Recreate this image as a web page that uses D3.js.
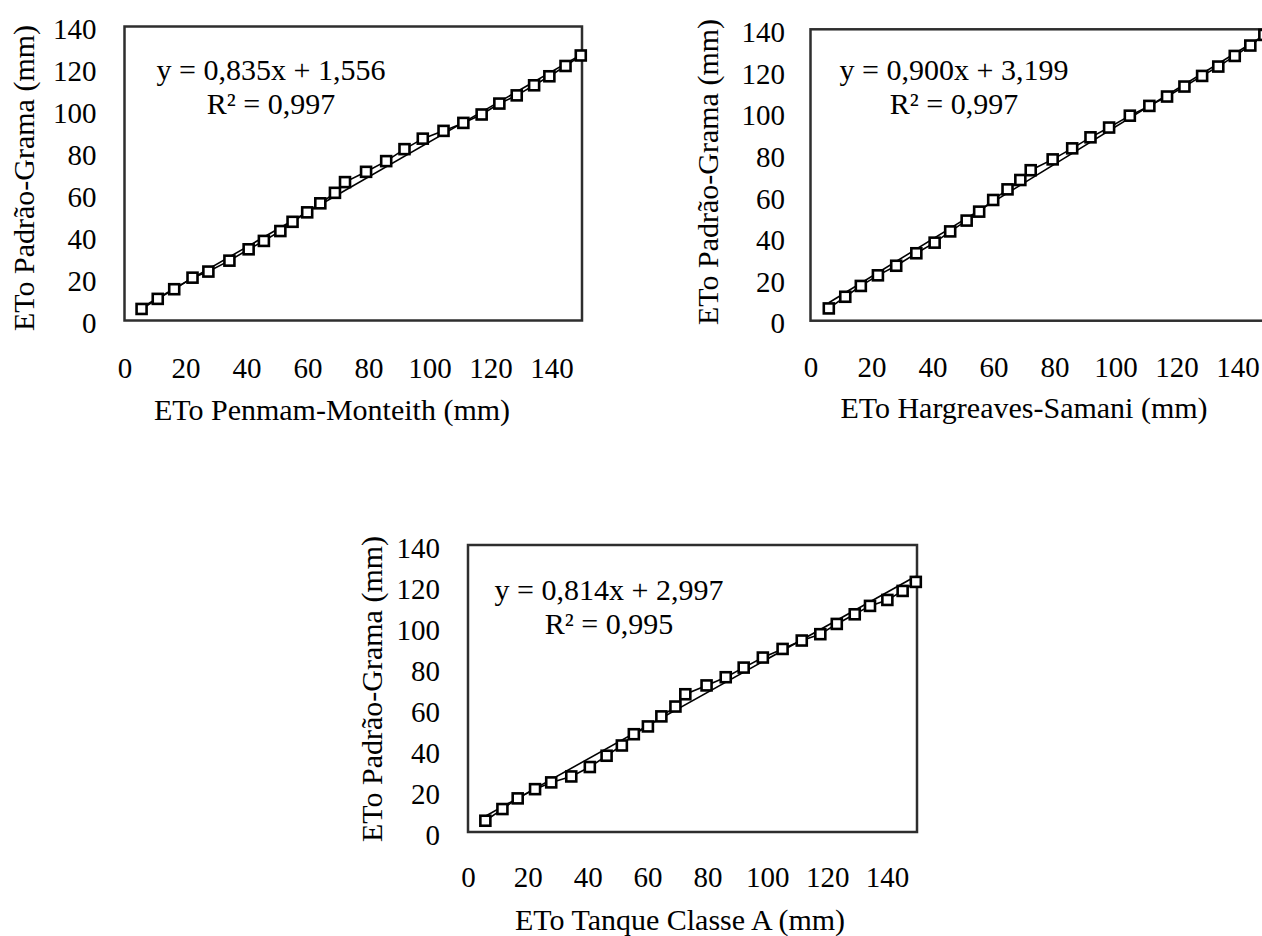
<!DOCTYPE html>
<meta charset="utf-8">
<style>

body {
  margin: 0;
  background: #fff;
}

svg {
  display: block;
}

text {
  font-family: "Liberation Serif", "Times New Roman", serif;
  fill: #000;
}

.box {
  fill: none;
  stroke: #2e2e2e;
  stroke-width: 2.5px;
}

.series, .trend {
  fill: none;
  stroke: #000;
  stroke-width: 1.6px;
}

.marker {
  fill: #fff;
  stroke: #000;
  stroke-width: 2.6px;
}

</style>
<body>
<script src="https://cdn.jsdelivr.net/npm/d3@7"></script>
<script>

var width = 1262,
    height = 936;

// tick labels shared by all three panels
var xTicks = [0, 20, 40, 60, 80, 100, 120, 140],
    yTicks = [0, 20, 40, 60, 80, 100, 120, 140];

// Penman-Monteith vs Padrão-Grama
var pmX = [5.6, 10.9, 16.3, 22.3, 27.5, 34.4, 40.7, 45.7, 51.1, 55.1, 59.9, 64.2, 69.0, 72.3,
           79.2, 85.8, 91.8, 97.8, 104.6, 111.1, 117.1, 122.9, 128.6, 134.3, 139.3, 144.6, 149.6],
    pmY = [5.5, 10.3, 14.9, 20.4, 23.3, 28.5, 33.9, 37.9, 42.6, 47.0, 51.5, 55.8, 60.8, 65.9,
           70.8, 75.9, 81.6, 86.6, 90.3, 94.1, 98.1, 103.3, 107.2, 112.0, 116.3, 121.2, 126.2],
    pmFit = [0.835, 1.556],
    pmR2 = 0.997;

// Hargreaves-Samani vs Padrão-Grama
var hsX = [6.0, 11.4, 16.5, 22.1, 28.1, 34.7, 40.7, 45.8, 51.2, 55.3, 59.9, 64.6, 68.8, 72.2,
           79.4, 85.8, 91.8, 97.9, 104.7, 111.1, 116.9, 122.6, 128.4, 133.7, 139.1, 144.2, 148.8],
    hsY = [5.9, 11.5, 16.7, 21.8, 26.4, 32.4, 37.5, 42.9, 48.1, 52.4, 58.0, 63.1, 67.6, 72.3,
           77.5, 82.8, 88.1, 92.8, 98.5, 103.2, 107.7, 112.5, 117.6, 122.1, 127.2, 132.2, 137.3],
    hsFit = [0.900, 3.199],
    hsR2 = 0.997;

// Tanque Classe A vs Padrão-Grama
var tcX = [5.8, 11.5, 16.6, 22.4, 27.8, 34.5, 40.7, 46.3, 51.4, 55.4, 60.1, 64.6, 69.3, 72.6,
           79.7, 86.1, 92.1, 98.5, 105.1, 111.5, 117.7, 123.2, 129.2, 134.3, 140.1, 145.2, 149.6],
    tcY = [5.5, 11.2, 16.4, 20.9, 24.2, 27.1, 31.7, 37.2, 42.2, 47.7, 51.5, 56.4, 61.2, 67.2,
           71.5, 75.5, 80.2, 85.1, 89.3, 93.4, 96.5, 101.5, 106.2, 110.3, 113.2, 117.6, 122.0],
    tcFit = [0.814, 2.997],
    tcR2 = 0.995;

var panels = [
  {xs: pmX, ys: pmY, fit: pmFit, r2: pmR2,
   xTitle: "ETo Penmam-Monteith  (mm)", yTitle: "ETo Padrão-Grama  (mm)",
   left: 124.5, top: 26.5, w: 457.5, h: 294, yPad: 28, xPad: 37,
   yTitleX: 24, yTitleY: 178, xTitleX: 332, xTitleY: 410, eqX: 271, eqY: 70},
  {xs: hsX, ys: hsY, fit: hsFit, r2: hsR2,
   xTitle: "ETo Hargreaves-Samani  (mm)", yTitle: "ETo Padrão-Grama  (mm)",
   left: 810.5, top: 29.3, w: 457.5, h: 291.4, yPad: 25.5, xPad: 36,
   yTitleX: 708, yTitleY: 172, xTitleX: 1024, xTitleY: 408, eqX: 954, eqY: 70},
  {xs: tcX, ys: tcY, fit: tcFit, r2: tcR2,
   xTitle: "ETo Tanque Classe A (mm)", yTitle: "ETo Padrão-Grama (mm)",
   left: 468, top: 545, w: 449, h: 287, yPad: 28, xPad: 34.5,
   yTitleX: 372.5, yTitleY: 689, xTitleX: 680, xTitleY: 920, eqX: 609, eqY: 590}
];

var num = function(v) { return d3.format(".3f")(v).replace(".", ","); };

var svg = d3.select("body").append("svg")
    .attr("width", width)
    .attr("height", height);

panels.forEach(function(p) {
  var x = d3.scaleLinear().domain([0, 150]).range([0, p.w]),
      y = d3.scaleLinear().domain([0, 140]).range([p.h, 0]);

  var g = svg.append("g")
      .attr("transform", "translate(" + p.left + "," + p.top + ")");

  g.append("rect")
      .attr("class", "box")
      .attr("width", p.w)
      .attr("height", p.h);

  var gy = g.append("g")
      .call(d3.axisLeft(y).tickValues(yTicks).tickSize(0).tickPadding(p.yPad));
  gy.select(".domain").remove();
  gy.selectAll("text")
      .attr("dy", "0.42em")
      .style("font-size", "29px")
      .style("font-family", "'Liberation Serif', 'Times New Roman', serif");

  var gx = g.append("g")
      .attr("transform", "translate(0," + p.h + ")")
      .call(d3.axisBottom(x).tickValues(xTicks).tickSize(0).tickPadding(p.xPad));
  gx.select(".domain").remove();
  gx.selectAll("text")
      .style("font-size", "29px")
      .style("font-family", "'Liberation Serif', 'Times New Roman', serif");

  var pts = p.xs.map(function(d, i) { return [d, p.ys[i]]; });

  g.append("path")
      .attr("class", "series")
      .attr("d", d3.line()
          .x(function(d) { return x(d[0]); })
          .y(function(d) { return y(d[1]); })(pts));

  var x0 = d3.min(p.xs), x1 = d3.max(p.xs);
  g.append("line")
      .attr("class", "trend")
      .attr("x1", x(x0))
      .attr("y1", y(p.fit[0] * x0 + p.fit[1]))
      .attr("x2", x(x1))
      .attr("y2", y(p.fit[0] * x1 + p.fit[1]));

  g.selectAll(".marker")
      .data(pts)
    .enter().append("rect")
      .attr("class", "marker")
      .attr("x", function(d) { return x(d[0]) - 5; })
      .attr("y", function(d) { return y(d[1]) - 5; })
      .attr("width", 10)
      .attr("height", 10);

  var eq = svg.append("text")
      .attr("x", p.eqX)
      .attr("y", p.eqY)
      .attr("text-anchor", "middle")
      .style("font-size", "30px");
  eq.append("tspan")
      .attr("x", p.eqX)
      .attr("dy", "0.33em")
      .text("y = " + num(p.fit[0]) + "x + " + num(p.fit[1]));
  eq.append("tspan")
      .attr("x", p.eqX)
      .attr("dy", "1.12em")
      .text("R² = " + num(p.r2));

  svg.append("text")
      .attr("transform", "translate(" + p.yTitleX + "," + p.yTitleY + ") rotate(-90)")
      .attr("text-anchor", "middle")
      .attr("dy", "0.33em")
      .style("font-size", "30px")
      .text(p.yTitle);

  svg.append("text")
      .attr("x", p.xTitleX)
      .attr("y", p.xTitleY)
      .attr("text-anchor", "middle")
      .attr("dy", "0.33em")
      .style("font-size", "30px")
      .text(p.xTitle);
});

</script>
